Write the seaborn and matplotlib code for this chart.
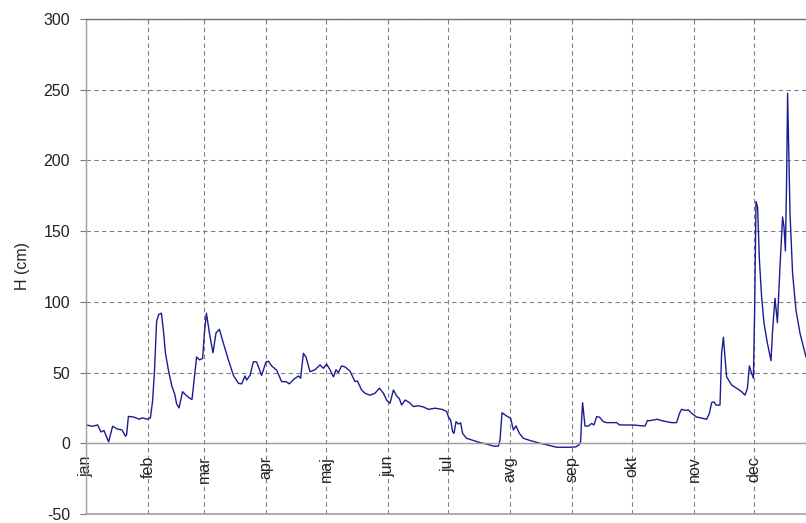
import matplotlib
matplotlib.use('Agg')
import matplotlib.pyplot as plt
import seaborn as sns

# mjesecne oznake i pocetni dani
month_labels = ['jan', 'feb', 'mar', 'apr', 'maj', 'jun', 'jul', 'avg', 'sep', 'okt', 'nov', 'dec']
month_starts = [0, 31, 59, 90, 120, 151, 181, 212, 243, 273, 304, 334]

# vodostaj H (cm), procitano sa grafika (dan u godini, vrijednost)
day = [0, 3.3, 5.8, 7.5, 9, 11.3, 13.3, 15.8, 18, 19.7, 20.3, 21.2, 24, 26.7, 28, 30.8,
       32.2, 33.3, 34.2, 35.3, 36.3, 37.7, 38.7, 39.7, 41.3, 43, 44.3, 45.3, 46.5, 48.3,
       50, 51.7, 53, 54.2, 55.3, 56.7, 58.3, 59.2, 60.2, 61.8, 63.5, 65, 66.7, 68.7, 71.2,
       73.7, 76.2, 77.8, 79.5, 80.3, 82, 83.7, 85.3, 87.8, 90, 91.2, 92.8, 95.3, 97.8, 100,
       101.7, 103.7, 106.2, 107.3, 108.7, 110, 112, 114.5, 117, 118.7, 120.3, 122, 123.7,
       125, 126.2, 127.8, 129.5, 132, 134.5, 135.7, 137.8, 139.5, 142, 144.5, 146.7, 148.7,
       150.3, 152, 153.7, 155.3, 156.7, 157.8, 159.5, 161.7, 163.7, 166.2, 168.7, 171.2,
       174.5, 178, 180.3, 181.2, 182.3, 183.3, 184, 185, 186.2, 187.3, 188.3, 190.3, 193.7,
       197, 200.3, 203.7, 206.2, 207, 208, 210.3, 212.3, 213.7, 215, 216.7, 218.7, 222, 227,
       230.3, 235.3, 242, 245, 246.5, 247.3, 247.8, 248.3, 249, 249.5, 251.2, 252.8, 254,
       255.3, 256.7, 258.7, 260.3, 265.3, 266.7, 273.7, 279.5, 280.7, 282, 283.7, 285.7,
       287.8, 290.3, 292.8, 295.3, 296.7, 297.8, 299.5, 301.2, 302.8, 305.3, 310.3, 311.7,
       312.8, 314, 315, 317, 317.8, 318.7, 319.5, 320.3, 322.8, 325.3, 327.8, 329.5, 330.7,
       331.7, 332.8, 333.7, 334.3, 335, 335.8, 336.7, 337.8, 339, 340.7, 342.5, 343.3, 344.5,
       345.7, 347, 348.3, 349, 349.7, 350.3, 350.8, 352, 353.3, 355, 357, 360]
h = [13, 12, 13, 8, 9, 1, 12, 10, 9.5, 5, 6, 19, 18.5, 17, 18, 17,
     18, 30, 50, 86, 91, 92, 80, 64, 51, 40, 35, 28, 25, 36.5,
     34, 32, 31, 47, 61, 59, 60, 78, 92, 77, 64, 78, 80.6, 70.7, 59,
     48, 42.4, 42, 47.6, 44.7, 48, 57.7, 57.5, 48, 57.5, 58, 54.7, 51.8, 43.6, 43.6,
     42, 45, 47.6, 46, 63.6, 61, 50.6, 52, 55.4, 53, 56, 52, 47,
     52, 50, 54.7, 54, 51, 43.6, 44, 37.7, 35.4, 34, 35.4, 39, 35.4,
     30.6, 28.3, 37.7, 33.5, 31.5, 27, 30.6, 28.8, 26, 26.5, 25.7, 24,
     24.8, 24, 22.5, 18.8, 16.5, 8.2, 7, 15.3, 13.6, 14.5, 7, 3.5, 2,
     0.5, -0.5, -2, -2, 2.3, 21.6, 19.3, 17.7, 9.4, 12.3, 7, 3.5, 2, 0,
     -1, -2.8, -2.8, -2.5, -1, 1, 16.5, 28.7, 18.8, 12.2, 12.2, 14, 13,
     18.8, 18.5, 15.3, 14.6, 14.6, 13, 12.9, 12.2, 16, 16, 16.5, 17,
     16, 15.3, 14.6, 14.6, 21, 24, 23.3, 23.6, 21.2, 18.6, 17, 21.2,
     28.7, 29.3, 27, 27, 63.6, 75, 61.3, 47, 41.2, 38.9, 36.5, 34, 38.9,
     54.7, 49.5, 46, 92, 171, 167, 129.6, 103.7, 85, 70.7, 58.4, 80, 102.5,
     85.3, 125, 160, 153, 136, 186, 247.5, 162.7, 120, 94, 77.8, 61]

sns.set_style('white')
plt.rcParams['font.family'] = ['Liberation Sans', 'DejaVu Sans']
plt.rcParams['axes.unicode_minus'] = False

fig = plt.figure(figsize=(8.06, 5.23), dpi=100)
ax = fig.add_axes([86 / 806, 9 / 523, 720 / 806, 495 / 523])

sns.lineplot(x=day, y=h, ax=ax, color='#1c1c92', linewidth=1.0, estimator=None, sort=False)

# x osa na nuli (prije podesavanja oznaka, jer set_position resetuje tickove)
ax.spines['bottom'].set_position(('data', 0))

ax.set_xlim(0, 360)
ax.set_ylim(-50, 300)
ax.set_yticks(range(-50, 301, 50))
ax.set_xticks(month_starts)
ax.set_xticklabels(month_labels, rotation=90, fontsize=11.5, color='#222222', va='top')
ax.tick_params(axis='x', length=0, pad=9)
ax.tick_params(axis='y', length=4.5, width=0.8, color='#777777', pad=7,
               labelsize=11.5, labelcolor='#222222', left=True)
ax.set_ylabel('H (cm)', fontsize=11.5, color='#222222', labelpad=10)
ax.set_xlabel('')

# mreza
ax.set_axisbelow(True)
ax.grid(True, linestyle=(0, (4, 3)), color='#808080', linewidth=0.8)

for side in ['left', 'bottom', 'top']:
    ax.spines[side].set_color('#a0a0a0')
    ax.spines[side].set_linewidth(1.0)
ax.spines['top'].set_color('#707070')
ax.spines['right'].set_visible(False)
ax.axhline(-50, color='#a0a0a0', linewidth=1.2, clip_on=False)

fig.savefig('out.png', dpi=100)
